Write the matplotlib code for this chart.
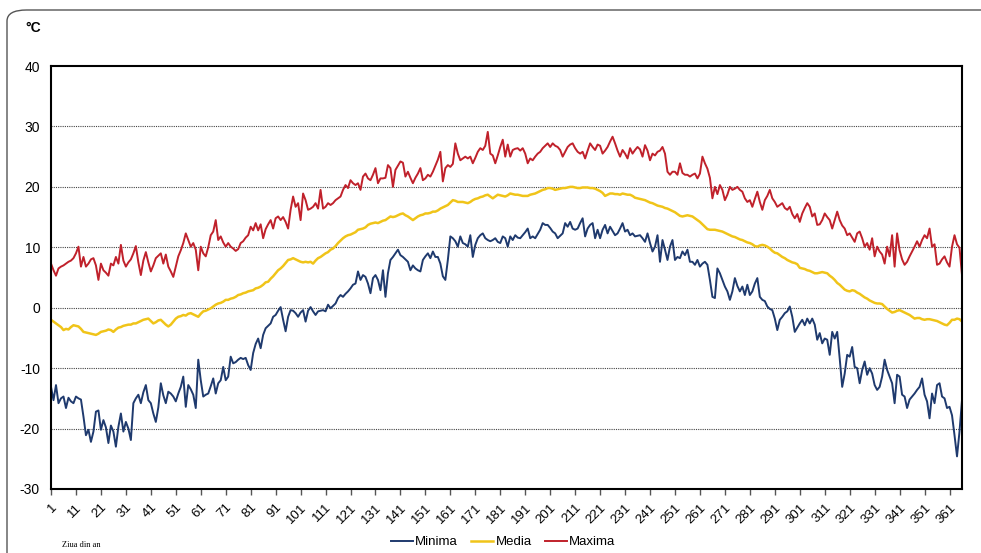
import matplotlib
matplotlib.use("Agg")
import matplotlib.pyplot as plt
from matplotlib.patches import FancyBboxPatch
import numpy as np

# Temperaturi zilnice (°C), ziua 1..366
minima = [
    -13.1, -15.3, -12.8, -15.8, -15.0, -14.7, -16.6, -14.9, -15.5, -15.8,
    -14.7, -15.0, -15.2, -18.0, -21.1, -20.2, -22.2, -20.5, -17.2, -17.0,
    -20.2, -18.6, -19.8, -22.4, -19.5, -20.5, -23.0, -19.7, -17.5, -20.5,
    -18.9, -20.0, -21.9, -15.8, -15.0, -14.4, -15.8, -14.0, -12.8, -15.3,
    -15.8, -17.5, -18.9, -16.5, -12.5, -14.5, -15.8, -13.9, -14.2, -14.7,
    -15.5, -14.2, -13.1, -11.4, -16.4, -12.8, -13.5, -14.4, -16.6, -8.6,
    -12.0, -14.7, -14.4, -14.2, -13.0, -11.7, -14.2, -12.5, -12.0, -9.8,
    -12.0, -11.4, -8.1, -9.2, -9.0, -8.6, -8.3, -8.5, -8.3, -9.5,
    -10.3, -7.5, -6.0, -5.1, -6.7, -4.5, -3.4, -3.0, -2.6, -1.5,
    -1.2, -0.5, 0.1, -2.0, -3.9, -1.5, -0.4, -0.5, -0.9, -1.5,
    -0.8, -0.4, -2.3, -0.5, 0.1, -0.6, -1.2, -0.6, -0.5, -0.4,
    -0.6, 0.5, -0.1, 0.3, 0.7, 1.6, 2.1, 1.8, 2.3, 2.7,
    3.2, 3.8, 4.0, 6.0, 4.6, 5.4, 5.1, 4.0, 2.4, 4.9,
    5.4, 4.6, 2.9, 6.2, 1.8, 5.7, 7.9, 8.4, 9.0, 9.6,
    8.7, 8.4, 8.0, 7.6, 6.2, 7.0, 6.5, 6.2, 6.0, 7.9,
    8.5, 9.0, 8.2, 9.3, 8.4, 8.4, 7.3, 5.2, 4.6, 7.9,
    11.8, 11.5, 11.0, 10.1, 11.8, 10.7, 10.5, 10.1, 12.0, 8.4,
    10.4, 11.5, 12.0, 12.3, 11.5, 11.2, 11.0, 11.2, 11.5, 10.9,
    10.7, 11.8, 11.5, 10.1, 11.8, 11.2, 12.0, 11.6, 11.5, 12.0,
    12.5, 13.1, 11.5, 11.8, 11.5, 12.2, 12.9, 14.0, 13.7, 13.7,
    13.2, 12.6, 12.3, 11.5, 11.9, 12.3, 14.0, 13.4, 14.2, 13.1,
    12.9, 13.1, 14.0, 14.8, 11.8, 13.1, 13.7, 14.0, 11.5, 12.9,
    11.5, 12.9, 13.7, 12.3, 13.4, 12.7, 12.0, 12.3, 13.1, 14.0,
    12.6, 12.9, 12.0, 12.3, 11.8, 11.9, 12.0, 11.5, 10.9, 12.3,
    10.7, 9.3, 10.1, 12.0, 7.6, 11.2, 9.6, 7.9, 10.1, 11.2,
    7.9, 8.4, 8.2, 9.3, 8.7, 9.6, 7.6, 7.6, 7.1, 7.9,
    6.8, 7.3, 7.6, 7.1, 4.6, 1.8, 1.6, 6.5, 5.7, 4.6,
    3.5, 2.7, 1.3, 2.7, 4.9, 3.6, 2.7, 3.5, 2.1, 3.8,
    2.1, 2.7, 4.0, 4.9, 1.8, 1.3, 1.1, 0.2, -0.2, -0.4,
    -1.8, -3.7, -2.0, -1.5, -0.9, -0.6, 0.2, -1.5, -4.0, -3.3,
    -2.6, -2.0, -2.9, -1.8, -2.6, -1.8, -2.8, -5.3, -4.2, -5.9,
    -5.1, -5.3, -7.8, -4.0, -5.1, -4.0, -8.4, -13.1, -10.9, -7.8,
    -8.1, -6.5, -9.8, -10.0, -12.5, -10.3, -8.9, -11.1, -10.0, -10.9,
    -12.8, -13.6, -13.1, -11.4, -8.6, -10.3, -11.4, -12.5, -15.8, -11.1,
    -11.4, -14.4, -14.7, -16.6, -15.2, -14.7, -14.2, -13.6, -13.1, -11.7,
    -14.4, -15.5, -18.3, -14.2, -15.8, -12.8, -12.5, -14.7, -15.0, -16.6,
    -16.4, -17.8, -21.1, -24.6, -20.5, -15.3,
]

media = [
    -2.0, -2.3, -2.6, -2.9, -3.2, -3.7, -3.5, -3.6, -3.2, -2.9,
    -3.0, -3.1, -3.5, -4.0, -4.1, -4.2, -4.3, -4.4, -4.5, -4.3,
    -4.0, -3.9, -3.8, -3.6, -3.7, -4.0, -3.6, -3.3, -3.2, -3.0,
    -2.9, -2.8, -2.8, -2.6, -2.6, -2.4, -2.2, -2.0, -1.9, -1.8,
    -2.2, -2.6, -2.4, -2.1, -2.0, -2.4, -2.8, -3.1, -2.8, -2.3,
    -1.8, -1.5, -1.4, -1.2, -1.3, -1.0, -0.9, -1.1, -1.3, -1.5,
    -1.0, -0.6, -0.5, -0.3, -0.1, 0.2, 0.5, 0.7, 0.8, 1.0,
    1.3, 1.3, 1.5, 1.6, 1.8, 2.1, 2.2, 2.4, 2.5, 2.7,
    2.8, 2.9, 3.2, 3.3, 3.5, 3.8, 4.2, 4.3, 4.8, 5.2,
    5.7, 6.2, 6.5, 6.9, 7.4, 7.9, 8.0, 8.2, 8.0, 7.8,
    7.6, 7.5, 7.6, 7.5, 7.6, 7.3, 7.8, 8.2, 8.4, 8.7,
    9.0, 9.2, 9.6, 9.8, 10.2, 10.7, 11.1, 11.5, 11.8, 12.0,
    12.1, 12.3, 12.5, 12.9, 13.0, 13.1, 13.3, 13.7, 13.9, 14.0,
    14.1, 14.0, 14.2, 14.4, 14.5, 14.8, 15.1, 15.0, 15.1, 15.3,
    15.5, 15.6, 15.3, 15.1, 14.8, 14.5, 14.8, 15.1, 15.3, 15.4,
    15.6, 15.6, 15.7, 15.9, 15.9, 16.1, 16.4, 16.6, 16.8, 17.0,
    17.4, 17.8, 17.7, 17.5, 17.5, 17.5, 17.4, 17.3, 17.5, 17.8,
    18.0, 18.1, 18.3, 18.4, 18.6, 18.7, 18.4, 18.1, 18.4, 18.7,
    18.6, 18.5, 18.4, 18.6, 18.9, 18.8, 18.7, 18.7, 18.6, 18.5,
    18.5, 18.5, 18.7, 18.8, 18.9, 19.1, 19.3, 19.5, 19.6, 19.8,
    19.8, 19.7, 19.5, 19.6, 19.7, 19.8, 19.8, 19.9, 20.0, 20.0,
    19.9, 19.8, 19.8, 19.9, 19.9, 19.9, 19.8, 19.8, 19.7, 19.5,
    19.3, 19.0, 18.5, 18.7, 18.9, 18.9, 18.8, 18.8, 18.7, 18.9,
    18.8, 18.7, 18.7, 18.5, 18.2, 18.1, 18.0, 17.9, 17.8, 17.6,
    17.4, 17.3, 17.1, 16.9, 16.8, 16.7, 16.5, 16.4, 16.2, 16.0,
    15.8, 15.5, 15.2, 15.1, 15.2, 15.3, 15.2, 15.1, 14.8, 14.5,
    14.2, 13.8, 13.4, 13.0, 12.9, 12.9, 12.9, 12.8, 12.7, 12.6,
    12.4, 12.2, 12.0, 11.8, 11.7, 11.5, 11.3, 11.2, 11.0, 10.8,
    10.7, 10.5, 10.2, 10.1, 10.3, 10.4, 10.3, 10.1, 9.8, 9.4,
    9.1, 9.0, 8.7, 8.4, 8.2, 7.9, 7.7, 7.5, 7.4, 7.2,
    6.6, 6.5, 6.4, 6.2, 6.1, 5.9, 5.7, 5.7, 5.8, 5.9,
    5.8, 5.7, 5.3, 5.0, 4.6, 4.1, 3.8, 3.4, 3.0, 2.8,
    2.7, 2.9, 2.8, 2.5, 2.3, 2.0, 1.7, 1.5, 1.2, 1.0,
    0.8, 0.7, 0.7, 0.6, 0.2, -0.2, -0.5, -0.8, -0.7, -0.5,
    -0.4, -0.6, -0.8, -1.0, -1.2, -1.5, -1.8, -1.7, -1.7, -1.9,
    -2.0, -1.9, -1.9, -2.0, -2.1, -2.2, -2.4, -2.6, -2.8, -2.9,
    -2.5, -2.0, -2.0, -1.8, -1.9, -2.3,
]

maxima = [
    7.3, 6.2, 5.3, 6.5, 6.8, 7.0, 7.3, 7.6, 7.8, 8.2,
    9.0, 10.1, 6.8, 8.4, 6.8, 7.3, 8.0, 8.2, 7.0, 4.6,
    7.3, 6.2, 5.8, 5.3, 7.3, 7.0, 8.4, 7.3, 10.4, 7.8,
    6.8, 7.5, 8.0, 9.0, 10.2, 7.5, 5.4, 7.8, 9.2, 7.5,
    6.0, 7.0, 8.2, 8.6, 9.0, 7.3, 8.8, 6.8, 6.0, 5.1,
    6.8, 8.5, 9.5, 10.7, 12.3, 11.2, 10.1, 10.7, 9.6, 6.2,
    10.1, 9.0, 8.5, 10.0, 12.0, 12.6, 14.5, 11.2, 11.8, 10.8,
    10.1, 10.7, 10.1, 9.8, 9.4, 9.7, 10.7, 11.0, 11.6, 12.0,
    13.4, 12.8, 14.0, 12.8, 13.8, 11.5, 13.0, 13.8, 14.5, 13.1,
    14.8, 15.1, 14.5, 15.0, 14.2, 13.1, 16.2, 18.4, 16.7, 17.3,
    14.5, 18.9, 17.8, 16.2, 16.4, 16.7, 17.3, 16.4, 19.5, 16.4,
    16.7, 17.3, 17.0, 17.3, 17.8, 18.1, 18.4, 19.5, 20.3, 19.8,
    21.1, 20.6, 20.3, 20.6, 19.5, 21.7, 22.2, 21.4, 21.1, 22.0,
    23.1, 20.6, 21.4, 21.4, 21.5, 23.6, 23.1, 20.0, 22.8, 23.5,
    24.2, 24.0, 21.7, 22.5, 21.5, 20.6, 21.5, 22.2, 23.1, 21.1,
    21.4, 22.0, 21.7, 22.5, 23.5, 24.5, 25.8, 20.9, 23.1, 23.6,
    23.3, 23.8, 27.2, 25.5, 24.4, 24.7, 25.0, 24.7, 25.0, 23.9,
    24.8, 25.8, 26.4, 26.1, 26.8, 29.1, 25.5, 25.2, 23.9, 25.2,
    26.6, 27.8, 25.0, 27.0, 25.0, 26.1, 26.3, 26.4, 26.0, 26.4,
    25.5, 23.9, 24.7, 24.4, 25.0, 25.5, 25.8, 26.4, 26.8, 27.2,
    26.6, 27.2, 26.8, 26.6, 26.1, 25.0, 25.8, 26.6, 27.0, 27.2,
    26.4, 25.8, 25.5, 25.8, 24.7, 26.0, 27.2, 26.6, 26.1, 27.0,
    26.8, 25.5, 26.0, 26.6, 27.5, 28.3, 27.2, 26.0, 25.0, 26.1,
    25.5, 24.7, 26.4, 25.5, 26.1, 26.6, 26.2, 25.0, 26.9, 26.0,
    24.4, 25.5, 25.2, 25.8, 26.0, 26.6, 25.5, 22.5, 22.0, 22.5,
    22.5, 22.0, 23.9, 22.3, 22.0, 22.0, 21.7, 22.0, 22.2, 21.4,
    22.2, 25.0, 23.9, 23.0, 21.5, 18.1, 20.0, 18.8, 20.3, 19.5,
    17.8, 18.7, 20.0, 19.5, 19.7, 20.0, 19.5, 19.2, 18.1, 17.5,
    17.8, 16.7, 18.0, 19.2, 17.5, 16.2, 17.8, 18.5, 19.5, 18.1,
    17.5, 16.7, 17.0, 17.3, 16.5, 16.2, 16.7, 15.5, 14.8, 15.5,
    14.2, 15.6, 16.5, 17.3, 16.7, 15.1, 15.6, 13.7, 13.8, 14.5,
    15.6, 15.0, 14.5, 13.1, 14.5, 15.9, 14.5, 13.6, 13.1, 12.0,
    12.3, 11.6, 10.9, 12.3, 12.6, 11.5, 10.1, 10.7, 9.6, 11.5,
    8.5, 10.1, 9.3, 8.8, 7.3, 10.1, 8.5, 12.0, 6.8, 12.3,
    9.5, 8.0, 7.1, 7.6, 8.5, 9.3, 10.1, 11.0, 10.1, 11.2,
    12.0, 11.5, 13.1, 10.1, 10.5, 7.1, 7.3, 8.0, 8.5, 7.5,
    6.8, 10.1, 12.0, 10.5, 9.9, 5.4,
]

days = np.arange(1, len(media) + 1)
tick_days = list(range(1, 362, 10))
y_ticks = [-30, -20, -10, 0, 10, 20, 30, 40]

c_min = "#1f3a6e"
c_med = "#f0c419"
c_max = "#c0212b"

plt.rcParams['font.family'] = ['Liberation Sans', 'DejaVu Sans']
plt.rcParams['axes.unicode_minus'] = False

W, H = 981, 553
fig = plt.figure(figsize=(W / 100, H / 100), dpi=100)
ax = fig.add_axes([51 / W, 1 - 489 / H, (962 - 51) / W, (489 - 66) / H])

# chenarul exterior rotunjit
border = FancyBboxPatch((7 / W, -0.1), 1.2, 1 - 10 / H + 0.1,
                        boxstyle="round,pad=0,rounding_size=0.02",
                        transform=fig.transFigure, fill=False,
                        edgecolor="#555555", linewidth=1.0)
fig.patches.append(border)

ax.plot(days, minima, color=c_min, lw=1.4, label="Minima")
ax.plot(days, media, color=c_med, lw=1.8, label="Media")
ax.plot(days, maxima, color=c_max, lw=1.4, label="Maxima")

ax.set_xlim(1, len(media))
ax.set_ylim(-30, 40)
ax.set_yticks(y_ticks)
ax.set_xticks(tick_days)
ax.set_xticklabels([str(d) for d in tick_days], rotation=45, ha="right",
                   rotation_mode="anchor", fontsize=9.5)
ax.tick_params(axis="y", length=0, labelsize=10, pad=8)
ax.tick_params(axis="x", length=4, width=1, color="#555555", pad=5)

for y in y_ticks[1:-1]:
    ax.axhline(y, color="#444444", lw=0.8, ls=(0, (1, 1)), zorder=0)

for s in ax.spines.values():
    s.set_color("black")
    s.set_linewidth(1.5)

fig.text(25 / W, 1 - 28 / H, "°C", fontsize=10, fontweight="bold", va="center")
fig.text(62 / W, 1 - 545 / H, "Ziua din an", fontsize=6,
         family=["Liberation Serif", "DejaVu Serif"], va="center")

fig.legend(loc="center", bbox_to_anchor=(503 / W, 1 - 542 / H), ncol=3,
           frameon=False, fontsize=9.5, handlelength=1.7, handletextpad=0.15,
           columnspacing=1.0)

fig.savefig("out.png", dpi=100)
